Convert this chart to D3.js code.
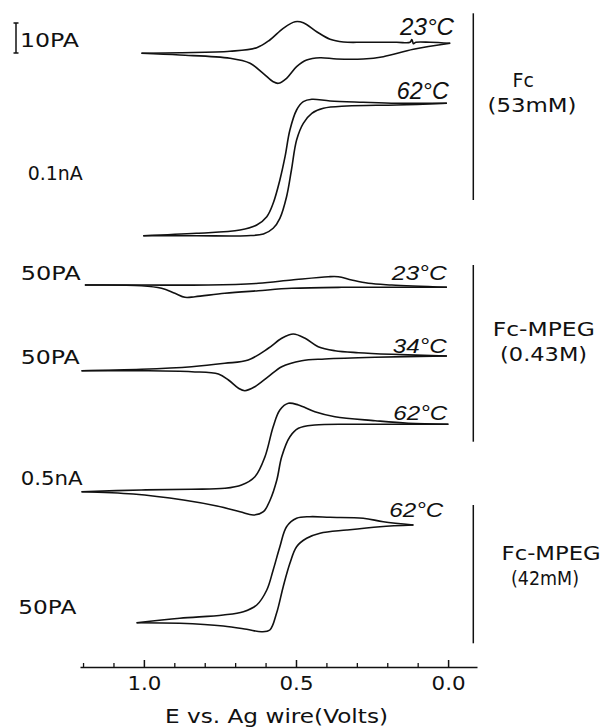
<!DOCTYPE html>
<html>
<head>
<meta charset="utf-8">
<script src="https://cdn.jsdelivr.net/npm/d3@7"></script>
<style>
  html, body { margin: 0; padding: 0; background: #fff; }
  svg { display: block; }
</style>
</head>
<body>
<svg id="chart" width="601" height="727"></svg>
<script>
// Cyclic voltammograms: potential E (V vs. Ag wire), current in recorder units
// (10 units = the 10 pA calibration bar). Each branch is a list of [E, i].

// Fc (53 mM), 23 °C
const fc23Upper = [[1.008,0],[0.882,0.2],[0.717,0.67],[0.629,1.87],[0.586,4.43],[0.542,8.33],[0.503,10.53],[0.476,10.2],[0.432,7.2],[0.388,4.67],[0.344,3.77],[0.279,3.67],[0.169,3.67],[0.125,3.67],[0.119,4.6],[0.114,3.2],[0.106,3.67],[0.059,3.67],[-0.007,3.33]];
const fc23Lower = [[1.008,0],[0.882,-0.57],[0.717,-1.67],[0.651,-3.33],[0.608,-6.67],[0.575,-9.47],[0.558,-10],[0.531,-8.33],[0.498,-4.47],[0.465,-2.23],[0.421,-1.47],[0.366,-1.9],[0.279,-1.9],[0.213,-1.13],[0.114,1.33],[-0.007,3.33]];

// Fc (53 mM), 62 °C
const fc62Upper = [[1.002,0],[0.827,0.8],[0.684,1.9],[0.629,3.57],[0.596,6.33],[0.575,10.8],[0.553,18.57],[0.536,26.33],[0.520,35.23],[0.498,41.9],[0.476,44.67],[0.448,45.47],[0.388,44.9],[0.279,44.47],[0.169,44.13],[0.004,44.13]];
const fc62Lower = [[1.002,0],[0.827,0],[0.662,0],[0.607,0.57],[0.575,2.47],[0.553,5.8],[0.531,13],[0.515,21.9],[0.498,31.9],[0.476,37.47],[0.448,40.8],[0.410,42.47],[0.333,43.23],[0.169,43.57],[0.004,44.13]];

// Fc-MPEG (0.43 M), 23 °C
const mpeg23Upper = [[1.194,0],[1.008,0],[0.788,0],[0.624,0.57],[0.514,1.67],[0.394,2.77],[0.361,2.77],[0.317,1.67],[0.262,0.57],[0.185,0],[0.004,-0.77]];
const mpeg23Lower = [[1.194,0],[1.008,-0.23],[0.942,-1.1],[0.898,-2.77],[0.865,-4.1],[0.832,-3.9],[0.734,-2.77],[0.624,-1.9],[0.514,-1.1],[0.350,-0.77],[0.185,-0.77],[0.004,-0.77]];

// Fc-MPEG (0.43 M), 34 °C
const mpeg34Upper = [[1.205,0],[1.008,0.47],[0.843,1.33],[0.734,2.47],[0.657,3.57],[0.591,7.47],[0.547,10.8],[0.509,12.23],[0.470,10.8],[0.427,8],[0.372,6.67],[0.295,6],[0.185,5.47],[0.004,4.9]];
const mpeg34Lower = [[1.205,0],[1.008,0],[0.843,-0.33],[0.755,-1.1],[0.722,-3.1],[0.689,-5.87],[0.668,-6.67],[0.635,-5.33],[0.591,-2],[0.547,1.33],[0.481,3.33],[0.405,3.9],[0.240,4.47],[0.004,4.9]];

// Fc-MPEG (0.43 M), 62 °C
const mpeg62Upper = [[1.205,0],[1.008,0.57],[0.843,0.8],[0.734,1.13],[0.679,2.23],[0.635,5],[0.602,11.67],[0.575,21.67],[0.553,27.23],[0.525,29.47],[0.492,28.9],[0.438,26.67],[0.372,25],[0.240,23.67],[0.131,22.8],[-0.001,22.47]];
const mpeg62Lower = [[1.205,0],[1.035,-0.77],[0.870,-2.77],[0.760,-4.77],[0.684,-6.67],[0.640,-7.77],[0.607,-6.67],[0.585,-2.77],[0.563,3.9],[0.547,11.67],[0.520,18.33],[0.492,21.13],[0.438,22.23],[0.295,22.47],[-0.001,22.47]];

// Fc-MPEG (42 mM), 62 °C
const dilute62Upper = [[1.024,0],[0.882,1.47],[0.739,2.57],[0.673,3.67],[0.629,5.9],[0.596,10.9],[0.575,17.57],[0.553,25.33],[0.531,32],[0.498,34.8],[0.454,35.33],[0.388,35.13],[0.279,34.8],[0.213,33.67],[0.114,32.57]];
const dilute62Lower = [[1.024,0],[0.882,-0.2],[0.739,-1.1],[0.662,-2.2],[0.613,-3],[0.586,-2.43],[0.564,3.13],[0.542,12],[0.520,19.8],[0.498,25.33],[0.465,28.13],[0.421,29.8],[0.333,30.9],[0.224,32],[0.114,32.57]];

// Labels
const temperatures = ["23°C", "62°C", "23°C", "34°C", "62°C", "62°C"];
const sensitivities = ["10PA", "0.1nA", "50PA", "50PA", "0.5nA", "50PA"];
const groupNames = [["Fc", "(53mM)"], ["Fc-MPEG", "(0.43M)"], ["Fc-MPEG", "(42mM)"]];
const majorTicks = [1.0, 0.5, 0.0];
const minorTicks = [1.2, 1.1, 0.9, 0.8, 0.7, 0.6, 0.4, 0.3, 0.2, 0.1];
const xTitle = "E vs. Ag wire(Volts)";

const branches = [
  [fc23Upper, fc23Lower], [fc62Upper, fc62Lower],
  [mpeg23Upper, mpeg23Lower], [mpeg34Upper, mpeg34Lower],
  [mpeg62Upper, mpeg62Lower], [dilute62Upper, dilute62Lower]
];

// ---- layout ----
const svg = d3.select("#chart");
const x = d3.scaleLinear().domain([1.21, -0.095]).range([80, 477]);
const yCur = d3.scaleLinear().domain([0, 10]).range([0, -30]);
const baselines = [53.3, 235.7, 285, 370.7, 491.7, 622.7];
const sansFont = "'DejaVu Sans', sans-serif";
const italFont = "'Liberation Sans', Arial, sans-serif";

// voltammograms
branches.forEach((pair, k) => {
  const line = d3.line()
    .x(d => x(d[0]))
    .y(d => baselines[k] + yCur(d[1]))
    .curve(d3.curveCatmullRom.alpha(0.5));
  svg.append("g").selectAll("path").data(pair).join("path")
    .attr("d", line)
    .attr("fill", "none")
    .attr("stroke", "#111")
    .attr("stroke-width", 1.6)
    .attr("stroke-linejoin", "round");
});

// sensitivity labels (left)
const sensPos = [
  {x: 20, y: 47, w: 59}, {x: 27.7, y: 180, w: 55}, {x: 20.7, y: 280, w: 60},
  {x: 20.7, y: 363.5, w: 59}, {x: 20.7, y: 485, w: 62}, {x: 18.3, y: 613.5, w: 58}
];
svg.append("g").selectAll("text").data(sensitivities).join("text")
  .attr("x", (d, i) => sensPos[i].x)
  .attr("y", (d, i) => sensPos[i].y)
  .attr("textLength", (d, i) => sensPos[i].w)
  .attr("lengthAdjust", "spacingAndGlyphs")
  .attr("font-family", sansFont)
  .attr("font-size", 19)
  .attr("fill", "#111")
  .text(d => d);

// 10 pA calibration bar
const bar = svg.append("g").attr("stroke", "#111").attr("stroke-width", 1.5);
bar.append("line").attr("x1", 16).attr("x2", 16).attr("y1", 23).attr("y2", 53);
bar.append("line").attr("x1", 13.5).attr("x2", 18.5).attr("y1", 23).attr("y2", 23);
bar.append("line").attr("x1", 13.5).attr("x2", 18.5).attr("y1", 53).attr("y2", 53);

// temperature labels (right end of each trace)
const tempPos = [
  {x: 400, y: 35, w: 54, s: 23}, {x: 396.7, y: 99, w: 52, s: 23},
  {x: 391.7, y: 280, w: 55, s: 21}, {x: 392.7, y: 352.5, w: 54, s: 21},
  {x: 393.3, y: 420, w: 54, s: 21}, {x: 389.3, y: 516.5, w: 54, s: 21}
];
svg.append("g").selectAll("text").data(temperatures).join("text")
  .attr("x", (d, i) => tempPos[i].x)
  .attr("y", (d, i) => tempPos[i].y)
  .attr("textLength", (d, i) => tempPos[i].w)
  .attr("lengthAdjust", "spacingAndGlyphs")
  .attr("font-family", italFont)
  .attr("font-style", "italic")
  .attr("font-size", (d, i) => tempPos[i].s)
  .attr("fill", "#111")
  .text(d => d);

// group brackets and names
const groupBars = [[13.3, 200], [265, 441.7], [505, 643.3]];
svg.append("g").selectAll("line").data(groupBars).join("line")
  .attr("x1", 473.3).attr("x2", 473.3)
  .attr("y1", d => d[0]).attr("y2", d => d[1])
  .attr("stroke", "#111").attr("stroke-width", 1.5);

const groupPos = [
  [{x: 523.3, y: 86.7, w: null}, {x: 532, y: 111.7, w: 89}],
  [{x: 543.8, y: 336, w: 102}, {x: 543.6, y: 360.7, w: 87}],
  [{x: 551.1, y: 560, w: 99}, {x: 545, y: 585, w: 68}]
];
groupNames.forEach((names, g) => {
  names.forEach((t, j) => {
    const p = groupPos[g][j];
    const el = svg.append("text")
      .attr("x", p.x).attr("y", p.y)
      .attr("text-anchor", "middle")
      .attr("font-family", sansFont)
      .attr("font-size", 19)
      .attr("fill", "#111")
      .text(t);
    if (p.w) el.attr("textLength", p.w).attr("lengthAdjust", "spacingAndGlyphs");
  });
});

// potential axis (ticks point up into the plot)
const axisY = 667;
const major = d3.axisBottom(x).tickValues(majorTicks).tickSize(-7).tickSizeOuter(0)
  .tickPadding(10).tickFormat(d3.format(".1f"));
const gMajor = svg.append("g").attr("transform", `translate(0,${axisY})`).call(major);
gMajor.select(".domain").attr("stroke", "#111").attr("stroke-width", 1.6);
gMajor.selectAll(".tick line").attr("stroke", "#111").attr("stroke-width", 1.5);
gMajor.selectAll(".tick text")
  .attr("font-family", sansFont).attr("font-size", 19).attr("fill", "#111")
  .attr("textLength", 34).attr("lengthAdjust", "spacingAndGlyphs");

const minor = d3.axisBottom(x).tickValues(minorTicks).tickSize(-4).tickSizeOuter(0).tickFormat("");
const gMinor = svg.append("g").attr("transform", `translate(0,${axisY})`).call(minor);
gMinor.select(".domain").remove();
gMinor.selectAll(".tick line").attr("stroke", "#111").attr("stroke-width", 1.3);

svg.append("text")
  .attr("x", 165).attr("y", 723)
  .attr("textLength", 223).attr("lengthAdjust", "spacingAndGlyphs")
  .attr("font-family", sansFont).attr("font-size", 20).attr("fill", "#111")
  .text(xTitle);
</script>
</body>
</html>
